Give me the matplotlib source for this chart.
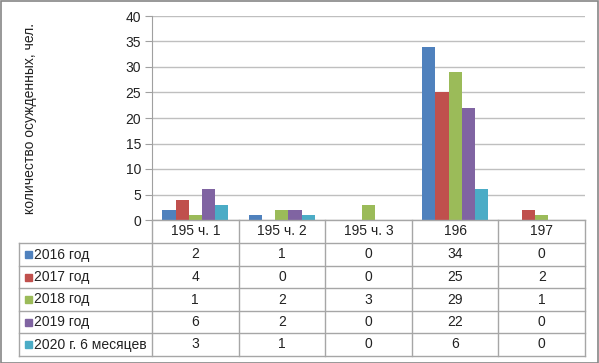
import matplotlib
matplotlib.use("Agg")
import numpy as np
import matplotlib.pyplot as plt
from matplotlib.lines import Line2D
from matplotlib.patches import Rectangle

# данные
categories = ["195 ч. 1", "195 ч. 2", "195 ч. 3", "196", "197"]
series_names = ["2016 год", "2017 год", "2018 год", "2019 год", "2020 г. 6 месяцев"]
v2016 = [2, 1, 0, 34, 0]
v2017 = [4, 0, 0, 25, 2]
v2018 = [1, 2, 3, 29, 1]
v2019 = [6, 2, 0, 22, 0]
v2020 = [3, 1, 0, 6, 0]
values = [v2016, v2017, v2018, v2019, v2020]
colors = ["#4F81BD", "#C0504D", "#9BBB59", "#8064A2", "#4BACC6"]
yticks = [0, 5, 10, 15, 20, 25, 30, 35, 40]

plt.rcParams["font.family"] = ["Liberation Sans", "DejaVu Sans"]
W, H = 599, 363
fig = plt.figure(figsize=(W / 100, H / 100), dpi=100)

def fx(px):
    return px / W

def fy(py):
    return 1 - py / H

x_left, x_right = 152, 585
y_top, y_zero = 16, 220
ax = fig.add_axes([fx(x_left), fy(y_zero), fx(x_right - x_left), (y_zero - y_top) / H])

n = len(series_names)
bw = 0.152
x = np.arange(len(categories))
for i in range(n):
    ax.bar(x + (i - (n - 1) / 2) * bw, values[i], bw, color=colors[i], zorder=3)

ax.set_xlim(-0.5, len(categories) - 0.5)
ax.set_ylim(0, 40)
ax.set_yticks(yticks)
ax.set_yticklabels([str(t) for t in yticks], fontsize=10, color="#222222")
ax.set_xticks([])
ax.yaxis.grid(True, color="#BFBFBF", linewidth=1, zorder=0)
for s in ["top", "right", "bottom"]:
    ax.spines[s].set_visible(False)
ax.spines["left"].set_color("#A0A0A0")
ax.tick_params(axis="y", length=5, color="#A0A0A0", pad=3)
ax.set_ylabel("количество осужденных, чел.", fontsize=10, color="#222222")
ax.yaxis.set_label_coords((37 - x_left) / (x_right - x_left), 0.5)

# таблица данных под диаграммой
line_c = "#A6A6A6"
row_lines = [220, 243, 266, 288, 311, 333, 356]
col_w = (x_right - x_left) / len(categories)
col_edges = [x_left + k * col_w for k in range(len(categories) + 1)]
tl = 19

def hline(x0, x1, y):
    fig.add_artist(Line2D([fx(x0), fx(x1)], [fy(y), fy(y)], color=line_c, lw=1))

def vline(x0, y0, y1):
    fig.add_artist(Line2D([fx(x0), fx(x0)], [fy(y0), fy(y1)], color=line_c, lw=1))

hline(x_left, x_right, row_lines[0])
for y in row_lines[1:]:
    hline(tl, x_right, y)
vline(tl, row_lines[1], row_lines[-1])
for xe in col_edges:
    vline(xe, row_lines[0], row_lines[-1])

for k, c in enumerate(categories):
    fig.text(fx(col_edges[k] + col_w / 2), fy((row_lines[0] + row_lines[1]) / 2), c,
             ha="center", va="center", fontsize=10, color="#222222")

for i in range(n):
    yc = (row_lines[i + 1] + row_lines[i + 2]) / 2
    fig.add_artist(Rectangle((fx(25), fy(yc + 3.5)), fx(7), 7 / H, color=colors[i]))
    fig.text(fx(34), fy(yc), series_names[i], ha="left", va="center", fontsize=10, color="#222222")
    for k in range(len(categories)):
        fig.text(fx(col_edges[k] + col_w / 2), fy(yc), str(values[i][k]),
                 ha="center", va="center", fontsize=10, color="#222222")

# рамка
fig.add_artist(Rectangle((0.5 / W, 0.5 / H), 1 - 1.5 / W, 1 - 1.5 / H, fill=False,
                         edgecolor="#868686", lw=1.2))

fig.savefig("out.png", dpi=100)
